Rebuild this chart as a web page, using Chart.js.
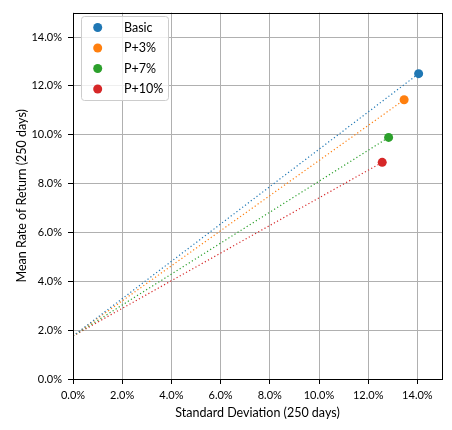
<!DOCTYPE html>
<html><head><meta charset="utf-8">
<script src="https://cdn.jsdelivr.net/npm/chart.js@4.4.0/dist/chart.umd.min.js"></script>
<style>html,body{margin:0;padding:0;background:#fff;} #wrap{width:452px;height:430px;position:relative;}</style>
</head><body><div id="wrap"><canvas id="c" width="452" height="430"></canvas></div>
<script>
const seriesNames = ['Basic', 'P+3%', 'P+7%', 'P+10%'];
const seriesColors = ['#1f77b4', '#ff7f0e', '#2ca02c', '#d62728'];
const stdDev = [14.05, 13.46, 12.83, 12.57];
const meanReturn = [12.50, 11.43, 9.89, 8.87];
const riskFreeRate = 1.76;
const xTicks = [0, 2, 4, 6, 8, 10, 12, 14];
const yTicks = [0, 2, 4, 6, 8, 10, 12, 14];
const xRange = [0, 15];
const yRange = [0, 15];
const xTitle = 'Standard Deviation (250 days)';
const yTitle = 'Mean Rate of Return (250 days)';
const FONT = 'Lato, "Liberation Sans", sans-serif';

const pointSets = seriesNames.map((n, i) => ({
  label: n,
  data: [{x: stdDev[i], y: meanReturn[i]}],
  backgroundColor: seriesColors[i],
  borderColor: seriesColors[i],
  pointRadius: 4.5,
  pointBorderWidth: 0,
  order: 1
}));
const lineSets = seriesNames.map((n, i) => ({
  label: n + ' line',
  data: [{x: 0, y: riskFreeRate}, {x: stdDev[i], y: meanReturn[i]}],
  showLine: true,
  borderColor: seriesColors[i],
  borderWidth: 1.2,
  borderDash: [1.2, 2.4],
  pointRadius: 0,
  fill: false,
  order: 2
}));

const framePlugin = {
  id: 'frame',
  afterDatasetsDraw(chart) {
    const {ctx, chartArea: a} = chart;
    const l = Math.round(a.left), t = Math.round(a.top), r = Math.round(a.right), b = Math.round(a.bottom);
    ctx.save();
    ctx.strokeStyle = '#000';
    ctx.lineWidth = 1;
    ctx.strokeRect(l + 0.5, t + 0.5, r - l, b - t);
    ctx.restore();
  }
};

const legendPlugin = {
  id: 'boxLegend',
  afterDraw(chart) {
    const ctx = chart.ctx;
    const x0 = 81, y0 = 16, w = 87, h = 84;
    ctx.save();
    ctx.beginPath();
    ctx.roundRect(x0 + 0.5, y0 + 0.5, w, h, 3);
    ctx.fillStyle = 'rgba(255,255,255,0.8)';
    ctx.fill();
    ctx.strokeStyle = '#cccccc';
    ctx.lineWidth = 1;
    ctx.stroke();
    ctx.font = '12.5px ' + FONT;
    ctx.textBaseline = 'middle';
    ctx.textAlign = 'left';
    seriesNames.forEach((n, i) => {
      const cy = 27.5 + i * 20.5;
      ctx.beginPath();
      ctx.arc(97.7, cy, 4.5, 0, Math.PI * 2);
      ctx.fillStyle = seriesColors[i];
      ctx.fill();
      ctx.fillStyle = '#000';
      ctx.fillText(n, 124, cy);
    });
    ctx.restore();
  }
};

new Chart(document.getElementById('c'), {
  type: 'scatter',
  data: {datasets: [...pointSets, ...lineSets]},
  plugins: [framePlugin, legendPlugin],
  options: {
    responsive: false,
    animation: false,
    devicePixelRatio: 1,
    layout: {padding: {top: 9, right: 10, left: 0, bottom: 0}},
    plugins: {legend: {display: false}, tooltip: {enabled: false}},
    scales: {
      x: {
        type: 'linear', min: xRange[0], max: xRange[1],
        afterBuildTicks: s => { s.ticks = xTicks.map(v => ({value: v})); },
        afterFit: s => { s.height = 51; },
        grid: {color: '#b0b0b0', lineWidth: 1, tickColor: '#000', tickLength: 5, tickWidth: 1},
        border: {display: false},
        ticks: {color: '#000', padding: 5, font: {family: FONT, size: 11}, maxRotation: 0,
          callback: v => v.toFixed(1) + '%'},
        title: {display: true, text: xTitle, color: '#000', font: {family: FONT, size: 12.5},
          padding: {top: 0, bottom: 10}}
      },
      y: {
        type: 'linear', min: yRange[0], max: yRange[1],
        afterBuildTicks: s => { s.ticks = yTicks.map(v => ({value: v})); },
        afterFit: s => { s.width = 73; },
        grid: {color: '#b0b0b0', lineWidth: 1, tickColor: '#000', tickLength: 5, tickWidth: 1},
        border: {display: false},
        ticks: {color: '#000', padding: 6, font: {family: FONT, size: 11},
          callback: v => v.toFixed(1) + '%'},
        title: {display: true, text: yTitle, color: '#000', font: {family: FONT, size: 12.5},
          padding: {top: 14, bottom: 0}}
      }
    }
  }
});
</script>
</body></html>
